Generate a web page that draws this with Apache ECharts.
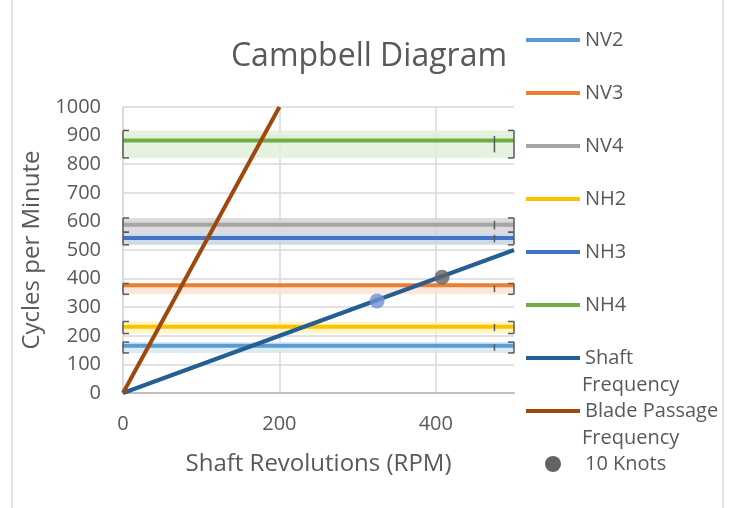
<!DOCTYPE html>
<html><head><meta charset="utf-8">
<script src="https://cdn.jsdelivr.net/npm/echarts@6/dist/echarts.min.js"></script>
<style>html,body{margin:0;padding:0;background:#fff}#c{width:732px;height:508px}</style>
</head><body><div id="c"></div>
<script>
// ---- data ----
const modeNames = ['NV2', 'NV3', 'NV4', 'NH2', 'NH3', 'NH4'];
const modeFreq  = [165, 377, 588, 232, 542, 883];
const bandLow   = [140, 345, 562, 208, 518, 822];
const bandHigh  = [178, 383, 612, 250, 562, 918];
const rpmRange  = [0, 500];
const shaftX = [0, 500];
const shaftY = [0, 500];
const bladeX = [0, 200];
const bladeY = [0, 1000];
const knots10 = [[408, 405]];
const otherPoint = [[325, 322]];
const legendOrder = ['NV2', 'NV3', 'NV4', 'NH2', 'NH3', 'NH4', 'Shaft Frequency', 'Blade Passage Frequency', '10 Knots'];

// ---- styles ----
const lineColors = ['#5B9BD5', '#ED7D31', '#A5A5A5', '#FFC000', '#4472C4', '#70AD47'];
const bandColors = ['#D3E7F1', '#FBE4D3', '#D6D6D6', '#FFF6BF', '#C6D4E3', '#E2F0DA'];
const font = 'Open Sans';
const txt = '#595959';
const LW = 4;

const series = [];
modeNames.forEach((n, i) => {
  series.push({
    name: n, type: 'line', symbol: 'none', z: 3,
    data: rpmRange.map(x => [x, modeFreq[i]]),
    lineStyle: { color: lineColors[i], width: LW },
    itemStyle: { color: lineColors[i] },
    markArea: { silent: true, itemStyle: { color: bandColors[i], opacity: 0.85 },
      data: [[{ coord: [rpmRange[0], bandLow[i]] }, { coord: [rpmRange[1], bandHigh[i]] }]] }
  });
});
// error bars at both ends of each mode line
const errData = [];
modeNames.forEach((n, i) => {
  errData.push([rpmRange[0], bandLow[i], bandHigh[i], 0]);
  errData.push([rpmRange[1], bandLow[i], bandHigh[i], 1]);
});
series.push({
  name: 'err', type: 'custom', z: 4, silent: true,
  data: errData,
  renderItem: function (params, api) {
    const x = api.value(0), lo = api.value(1), hi = api.value(2), side = api.value(3);
    const p1 = api.coord([x, lo]), p2 = api.coord([x, hi]);
    const d = side === 0 ? 6 : -6;
    const st = { stroke: '#595959', lineWidth: 1.5, fill: null };
    const children = [
      { type: 'line', shape: { x1: p1[0], y1: p1[1], x2: p2[0], y2: p2[1] }, style: st },
      { type: 'line', shape: { x1: p1[0], y1: p1[1], x2: p1[0] + d, y2: p1[1] }, style: st },
      { type: 'line', shape: { x1: p2[0], y1: p2[1], x2: p2[0] + d, y2: p2[1] }, style: st }
    ];
    if (side === 1) {
      const xm = api.coord([x - 25, (lo + hi) / 2]);
      const h = Math.abs(p1[1] - p2[1]) * 0.3;
      children.push({ type: 'line', shape: { x1: xm[0], y1: xm[1] - h, x2: xm[0], y2: xm[1] + h }, style: st });
    }
    return { type: 'group', children: children };
  }
});
series.push({
  name: 'Shaft Frequency', type: 'line', symbol: 'none', z: 5,
  data: shaftX.map((x, i) => [x, shaftY[i]]),
  lineStyle: { color: '#255E91', width: LW }, itemStyle: { color: '#255E91' }
});
series.push({
  name: 'Blade Passage Frequency', type: 'line', symbol: 'none', z: 5,
  data: bladeX.map((x, i) => [x, bladeY[i]]),
  lineStyle: { color: '#9E480E', width: LW }, itemStyle: { color: '#9E480E' }
});
series.push({
  name: 'Operating Point', type: 'scatter', symbolSize: 15, z: 6,
  data: otherPoint, itemStyle: { color: '#6F91D6' }
});
series.push({
  name: '10 Knots', type: 'scatter', symbolSize: 15, z: 6,
  data: knots10, itemStyle: { color: '#636363' }
});

const legendData = legendOrder.map(n => n === '10 Knots'
  ? { name: n, itemStyle: { opacity: 1 } }
  : { name: n });

const chart = echarts.init(document.getElementById('c'));
chart.setOption({
  animation: false,
  textStyle: { fontFamily: font },
  title: { text: 'Campbell Diagram', left: 364, top: 36, textAlign: 'center',
    textStyle: { fontFamily: font, fontSize: 32, fontWeight: 'normal', color: txt } },
  grid: { left: 123, right: 218, top: 107, bottom: 115 },
  legend: {
    orient: 'vertical', left: 524, top: 28, padding: 0, itemGap: 29,
    itemWidth: 54, itemHeight: 16,
    data: legendData,
    itemStyle: { opacity: 0 },
    lineStyle: { width: 4 },
    formatter: n => n.indexOf('Shaft') === 0 ? 'Shaft' : (n.indexOf('Blade') === 0 ? 'Blade Passage' : n),
    textStyle: { fontFamily: font, fontSize: 20, color: txt, lineHeight: 24 }
  },
  xAxis: {
    type: 'value', min: 0, max: 500, interval: 200,
    name: 'Shaft Revolutions (RPM)', nameLocation: 'middle', nameGap: 59,
    nameTextStyle: { fontFamily: font, fontSize: 24, color: txt },
    axisLine: { lineStyle: { color: '#BFBFBF', width: 2 } },
    axisTick: { show: false },
    axisLabel: { fontFamily: font, fontSize: 20, color: txt, margin: 21, showMaxLabel: false },
    splitLine: { show: true, showMaxLine: false, lineStyle: { color: '#D9D9D9', width: 1.5 } }
  },
  yAxis: {
    type: 'value', min: 0, max: 1000, interval: 100,
    name: 'Cycles per Minute', nameLocation: 'middle', nameGap: 75,
    nameTextStyle: { fontFamily: font, fontSize: 24, color: txt },
    axisLine: { show: true, lineStyle: { color: '#D9D9D9', width: 1.5 } },
    axisTick: { show: false },
    axisLabel: { fontFamily: font, fontSize: 20, color: txt, margin: 22, formatter: v => String(v) },
    splitLine: { lineStyle: { color: '#D9D9D9', width: 1.5 } }
  },
  graphic: [
    { type: 'rect', shape: { x: 12, y: -4, width: 711, height: 530 }, style: { fill: null, stroke: '#D9D9D9', lineWidth: 1.5 }, silent: true },
    { type: 'text', left: 582, top: 375, style: { text: 'Frequency', font: '20px "Open Sans"', fill: txt } },
    { type: 'text', left: 582, top: 428, style: { text: 'Frequency', font: '20px "Open Sans"', fill: txt } }
  ],
  series: series
});
</script>
</body></html>
